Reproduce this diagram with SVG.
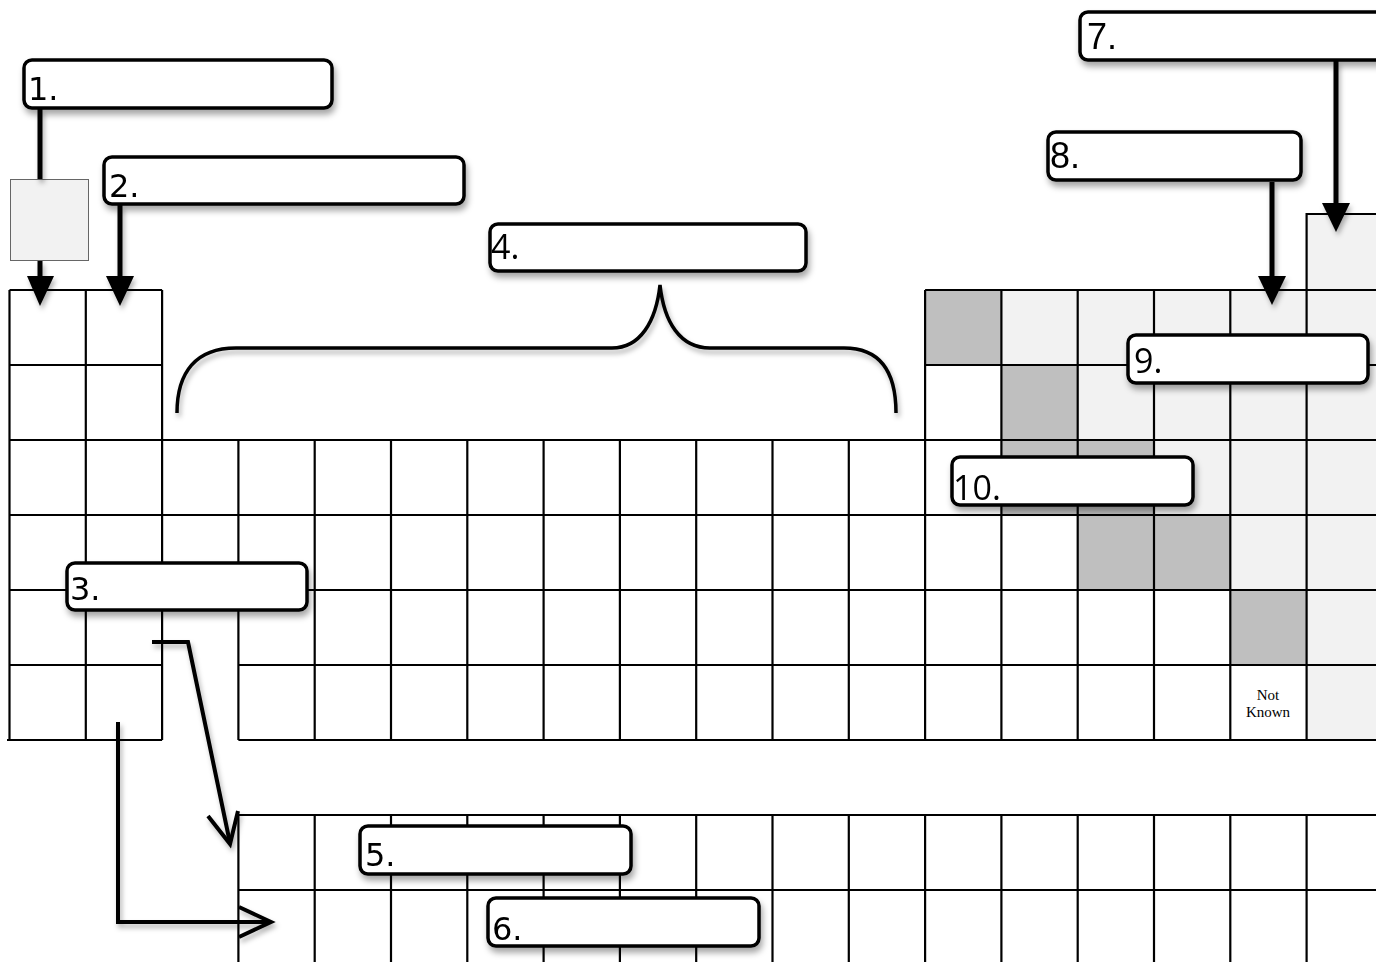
<svg xmlns="http://www.w3.org/2000/svg" width="1376" height="962" viewBox="0 0 1376 962">
<defs>
<filter id="sh" x="-10%" y="-30%" width="130%" height="180%">
<feDropShadow dx="2" dy="5" stdDeviation="3" flood-color="#000" flood-opacity="0.35"/>
</filter>
<filter id="sh2" x="-20%" y="-20%" width="140%" height="140%">
<feDropShadow dx="2" dy="4" stdDeviation="2.5" flood-color="#000" flood-opacity="0.3"/>
</filter>
<style>
.g{stroke:#000;stroke-width:2.2;fill:none}
.lt{fill:#f2f2f2}
.dk{fill:#bfbfbf}
.box{fill:#fff;stroke:#000;stroke-width:3.5}
.lbl{font-family:"DejaVu Sans","Noto Sans",sans-serif;font-size:32px;fill:#000}
.lbh{font-family:"Liberation Sans",Arial,sans-serif;font-size:36px;fill:#000}
.lbl2{font-family:"Open Sans","DejaVu Sans",sans-serif;font-size:34px;fill:#000}
.cn{stroke:#000;stroke-width:5;fill:none}
.hd{fill:#000}
.hand{stroke:#000;stroke-width:4;fill:none;stroke-linejoin:miter}
.nk{font-family:"Liberation Serif","Times New Roman",serif;font-size:15px;fill:#000;text-anchor:middle}
</style>
</defs>
<rect width="1376" height="962" fill="#fff"/>

<g id="grid">
<rect class="lt" x="1306.6" y="214" width="80" height="526"/>
<rect class="dk" x="925.1" y="290" width="76.3" height="75"/>
<rect class="lt" x="1001.4" y="290" width="305.2" height="75"/>
<rect class="dk" x="1001.4" y="365" width="76.3" height="75"/>
<rect class="lt" x="1077.7" y="365" width="228.9" height="75"/>
<rect class="dk" x="1001.4" y="440" width="152.6" height="75"/>
<rect class="lt" x="1154" y="440" width="152.6" height="75"/>
<rect class="dk" x="1077.7" y="515" width="152.6" height="75"/>
<rect class="lt" x="1230.3" y="515" width="76.3" height="75"/>
<rect class="dk" x="1230.3" y="590" width="76.3" height="75"/>
<path class="g" d="M1306.6,740 V214 H1390"/>
<path class="g" d="M9.5,290 H162.1 M9.5,365 H162.1 M925.1,290 H1390 M925.1,365 H1390
M9.5,440 H1390 M9.5,515 H1390 M9.5,590 H1390
M9.5,665 H162.1 M238.4,665 H1390 M7,740 H162.1 M238.4,740 H1390
M238.4,815 H1390 M238.4,890 H1390"/>
<path class="g" d="M9.5,290 V740 M85.8,290 V740 M162.1,290 V740
M238.4,440 V740 M314.7,440 V740 M391,440 V740 M467.3,440 V740 M543.6,440 V740
M619.9,440 V740 M696.2,440 V740 M772.5,440 V740 M848.8,440 V740
M925.1,290 V740 M1001.4,290 V740 M1077.7,290 V740 M1154,290 V740 M1230.3,290 V740"/>
<path class="g" d="M238.4,815 V962 M314.7,815 V962 M391,815 V962 M467.3,815 V962 M543.6,815 V962
M619.9,815 V962 M696.2,815 V962 M772.5,815 V962 M848.8,815 V962 M925.1,815 V962
M1001.4,815 V962 M1077.7,815 V962 M1154,815 V962 M1230.3,815 V962 M1306.6,815 V962"/>
<text class="nk" x="1268" y="700">Not</text>
<text class="nk" x="1268" y="717">Known</text>
</g>

<g id="h-cell">
<rect x="10.5" y="179.5" width="78" height="81" fill="#f2f2f2" stroke="#666" stroke-width="1"/>
</g>

<g id="connectors" filter="url(#sh2)">
<path class="cn" d="M40,109 V179 M40,261 V278"/>
<polygon class="hd" points="27,276 54,276 40,306"/>
<path class="cn" d="M120,205 V278"/>
<polygon class="hd" points="106,276 134,276 120,306"/>
<path class="cn" d="M1336,61 V205"/>
<polygon class="hd" points="1322,203 1350,203 1336,232"/>
<path class="cn" d="M1272,182 V278"/>
<polygon class="hd" points="1258,276 1286,276 1272,305"/>
<path d="M177,413 C177,372 196,348 236,348 L612,348 C640,348 656,322 660,285 C664,322 680,348 710,348 L844,348 C880,348 896,372 896,413" stroke="#000" stroke-width="3.5" fill="none"/>
<path class="hand" d="M152,642 H188 L230,843"/>
<path class="hand" d="M208,816 L230,844 L238,811"/>
<path class="hand" d="M118,722 V922 H270"/>
<path class="hand" d="M239,907 L271,922 L239,937"/>
</g>

<g id="label1" filter="url(#sh)"><rect class="box" x="24" y="60" width="308" height="48" rx="8"/><text class="lbl" x="28" y="100">1.</text></g>
<g id="label2" filter="url(#sh)"><rect class="box" x="104" y="157" width="360" height="47" rx="8"/><text class="lbl" x="109" y="197">2.</text></g>
<g id="label4" filter="url(#sh)"><rect class="box" x="490" y="224" width="316" height="47" rx="8"/><text class="lbl2" x="491" y="259">4.</text></g>
<g id="label7" filter="url(#sh)"><rect class="box" x="1080" y="12" width="320" height="48" rx="8"/><text class="lbh" x="1087" y="49">7.</text></g>
<g id="label8" filter="url(#sh)"><rect class="box" x="1048" y="132" width="253" height="48" rx="8"/><text class="lbh" x="1050" y="168">8.</text></g>
<g id="label9" filter="url(#sh)"><rect class="box" x="1128" y="335" width="240" height="48" rx="8"/><text class="lbl2" x="1134" y="373">9.</text></g>
<g id="label10" filter="url(#sh)"><rect class="box" x="952" y="457" width="241" height="48" rx="8"/><text class="lbl2" x="953" y="500">10.</text></g>
<g id="label3" filter="url(#sh)"><rect class="box" x="67" y="563" width="240" height="47" rx="8"/><text class="lbl" x="70" y="600">3.</text></g>
<g id="label5" filter="url(#sh)"><rect class="box" x="360" y="826" width="271" height="48" rx="8"/><text class="lbl" x="365" y="866">5.</text></g>
<g id="label6" filter="url(#sh)"><rect class="box" x="488" y="898" width="271" height="48" rx="8"/><text class="lbl" x="492" y="940">6.</text></g>
</svg>
